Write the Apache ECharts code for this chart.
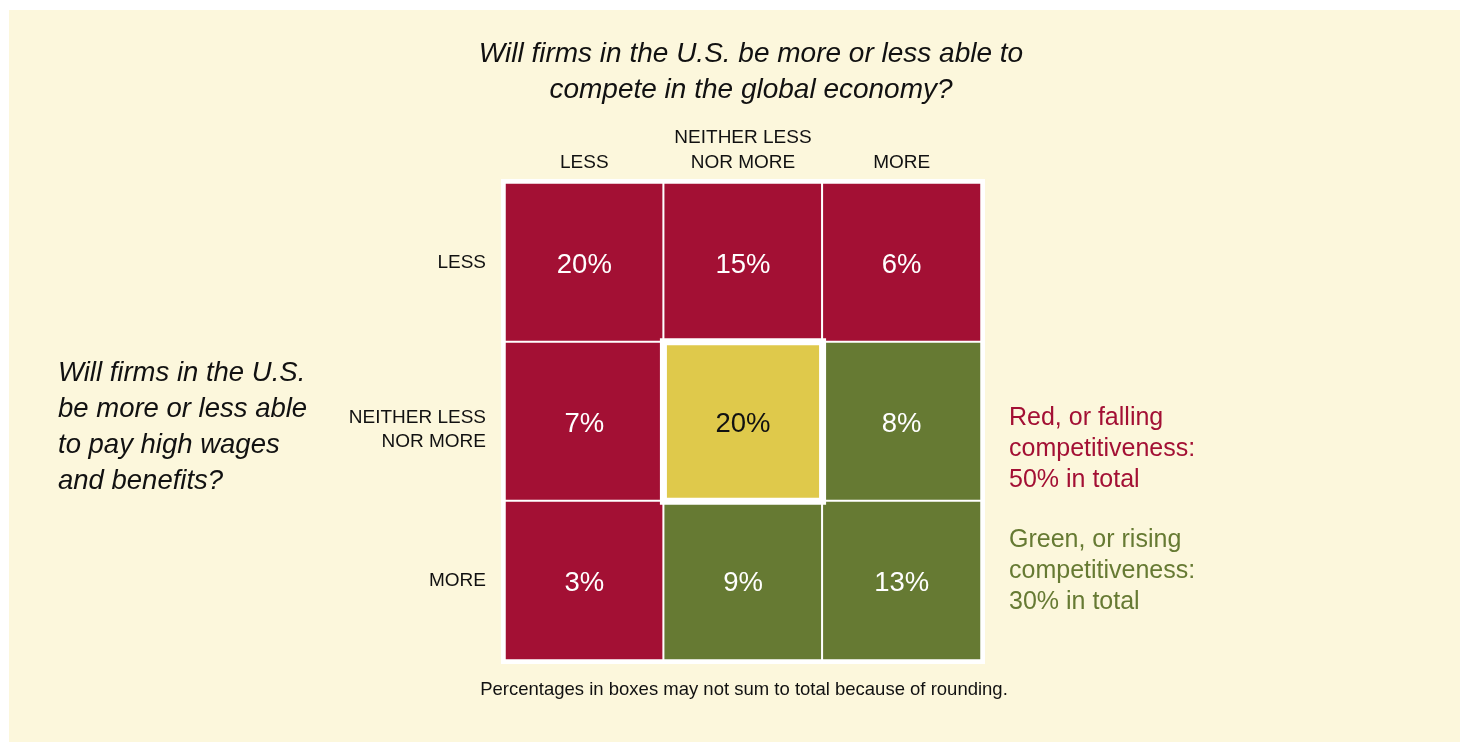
<!DOCTYPE html>
<html>
<head>
<meta charset="utf-8">
<script src="https://cdn.jsdelivr.net/npm/echarts@6/dist/echarts.min.js"></script>
<style>
  html, body { margin: 0; padding: 0; background: #fff; }
  #main { width: 1460px; height: 742px; }
</style>
</head>
<body>
<div id="main"></div>
<script>
// column answers: competing in the global economy
const cols = ['LESS', 'NEITHER LESS\nNOR MORE', 'MORE'];
// row answers: paying high wages and benefits
const rows = ['LESS', 'NEITHER LESS\nNOR MORE', 'MORE'];
// share of respondents, rows[i] x cols[j]
const shares = [
  [20, 15, 6],
  [7, 20, 8],
  [3, 9, 13]
];
// r = falling, y = mixed, g = rising
const groups = [
  ['r', 'r', 'r'],
  ['r', 'y', 'g'],
  ['r', 'g', 'g']
];
const redTotal = 50;
const greenTotal = 30;

const colors = { r: '#A31034', y: '#DFC94B', g: '#667A33' };
const font = '"Liberation Sans", Arial, sans-serif';

let cells = [];
let middle = null;
for (let i = 0; i < rows.length; i++) {
  for (let j = 0; j < cols.length; j++) {
    const g = groups[i][j];
    const item = {
      value: [j, i, shares[i][j]],
      itemStyle: { color: colors[g], borderWidth: g == 'y' ? 7 : 2 },
      label: { color: g == 'y' ? '#111' : '#fff' }
    };
    // the yellow box gets drawn last so its thick border sits on top
    if (g == 'y') middle = item; else cells.push(item);
  }
}
if (middle) cells.push(middle);

// two-line row labels sit a bit lower in the original: add a small spacer line
function rowLabel(v) {
  if (v.indexOf('\n') < 0) return '{t|' + v + '}';
  return '{pad|}\n' + v.split('\n').map(s => '{t|' + s + '}').join('\n');
}

let myChart = echarts.init(document.getElementById('main'));
myChart.setOption({
  backgroundColor: '#fff',
  animation: false,
  graphic: [{
    type: 'rect', z: -10,
    shape: { x: 9, y: 10, width: 1460, height: 742 },
    style: { fill: '#FCF7DC' }
  }],
  title: [
    {
      text: 'Will firms in the U.S. be more or less able to\ncompete in the global economy?',
      left: 751, top: 36, textAlign: 'center', padding: 0,
      textStyle: { fontFamily: font, fontStyle: 'italic', fontWeight: 'normal', fontSize: 28, lineHeight: 36, color: '#111' }
    },
    {
      text: 'Will firms in the U.S.\nbe more or less able\nto pay high wages\nand benefits?',
      left: 58, top: 355, padding: 0,
      textStyle: { fontFamily: font, fontStyle: 'italic', fontWeight: 'normal', fontSize: 27.5, lineHeight: 36, color: '#111' }
    },
    {
      text: 'Red, or falling\ncompetitiveness:\n' + redTotal + '% in total',
      left: 1009, top: 403, padding: 0,
      textStyle: { fontFamily: font, fontWeight: 'normal', fontSize: 25, lineHeight: 31, color: colors.r }
    },
    {
      text: 'Green, or rising\ncompetitiveness:\n' + greenTotal + '% in total',
      left: 1009, top: 525, padding: 0,
      textStyle: { fontFamily: font, fontWeight: 'normal', fontSize: 25, lineHeight: 31, color: colors.g }
    },
    {
      text: 'Percentages in boxes may not sum to total because of rounding.',
      left: 744, top: 680, textAlign: 'center', padding: 0,
      textStyle: { fontFamily: font, fontWeight: 'normal', fontSize: 18.5, lineHeight: 20, color: '#111' }
    }
  ],
  grid: {
    left: 505, top: 183, width: 476, height: 477,
    show: true, backgroundColor: '#fff', borderColor: '#fff', borderWidth: 8
  },
  xAxis: {
    type: 'category', position: 'top', data: cols,
    axisLine: { show: false }, axisTick: { show: false }, splitLine: { show: false },
    axisLabel: { interval: 0, margin: 8, fontFamily: font, fontSize: 19, lineHeight: 25, color: '#111' }
  },
  yAxis: {
    type: 'category', inverse: true, data: rows,
    axisLine: { show: false }, axisTick: { show: false }, splitLine: { show: false },
    axisLabel: {
      interval: 0, margin: 19, align: 'right',
      formatter: rowLabel,
      rich: {
        t: { fontFamily: font, fontSize: 19, lineHeight: 24, color: '#111', align: 'right' },
        pad: { fontSize: 10, lineHeight: 16 }
      }
    }
  },
  series: [{
    type: 'heatmap',
    data: cells,
    itemStyle: { borderColor: '#fff' },
    label: {
      show: true, fontFamily: font, fontSize: 27.5, offset: [0, 3],
      formatter: p => p.value[2] + '%'
    },
    emphasis: { disabled: true }
  }]
});
</script>
</body>
</html>
